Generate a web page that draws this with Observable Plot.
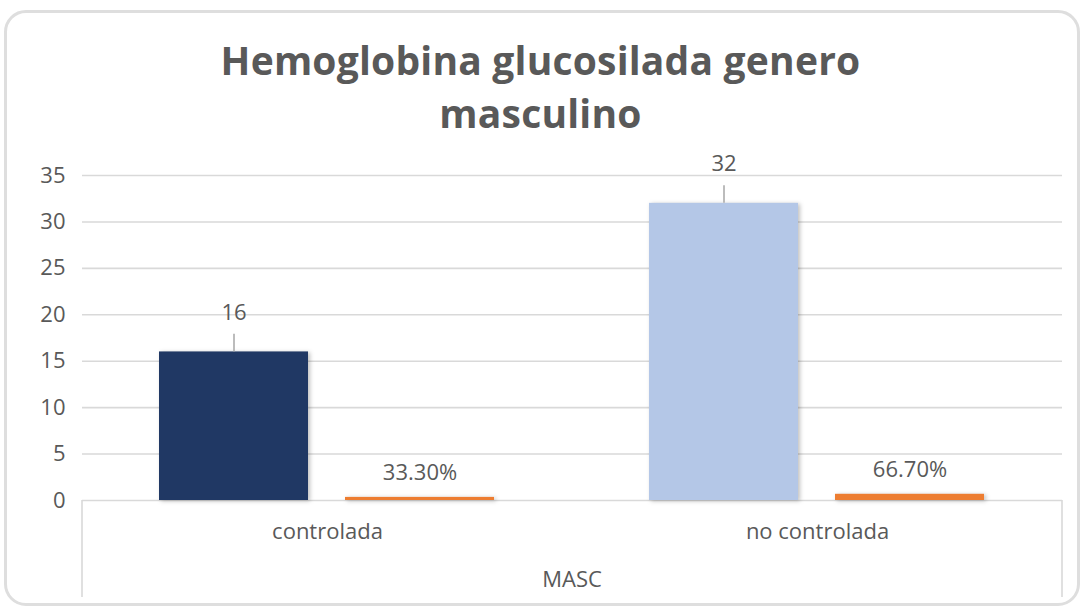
<!DOCTYPE html>
<html>
<head>
<meta charset="utf-8">
<script src="https://cdn.jsdelivr.net/npm/d3@7"></script>
<script src="https://cdn.jsdelivr.net/npm/@observablehq/plot@0.6"></script>
<style>
  html, body { margin: 0; padding: 0; background: #ffffff; }
  #wrap { position: relative; width: 1083px; height: 607px; overflow: hidden; font-family: "Open Sans", sans-serif; }
  #border { position: absolute; left: 4px; top: 10px; right: 3px; bottom: 1px; border: 3px solid #dedede; border-radius: 22px; box-sizing: border-box; }
  #title { position: absolute; left: 0; top: 33px; width: 1081px; text-align: center; font-size: 39px; font-weight: 700; color: #595959; line-height: 53px; letter-spacing: 0.2px; }
  #chart { position: absolute; left: 0; top: 140px; }
</style>
</head>
<body>
<div id="wrap">
  <div id="border"></div>
  <div id="title">Hemoglobina glucosilada genero<br>masculino</div>
  <div id="chart"></div>
</div>
<script>
// ---- data ----
const categories = ["controlada", "no controlada"];
const groupLabel = "MASC";
const counts = [16, 32];
const percents = [0.333, 0.667];
const yTicks = [0, 5, 10, 15, 20, 25, 30, 35];
const seriesNames = ["Cantidad", "Porcentaje"];

// ---- styles ----
const textColor = "#595959";
const gridColor = "#d9d9d9";
const countFill = ["#203864", "#b4c7e7"];
const pctFill = "#ed7d31";

const countRows = categories.map((c, i) => ({cat: c, series: seriesNames[0], value: counts[i], fill: countFill[i], label: String(counts[i])}));
const pctRows = categories.map((c, i) => ({cat: c, series: seriesNames[1], value: percents[i], fill: pctFill, label: (percents[i] * 100).toFixed(2) + "%"}));
const rows = countRows.concat(pctRows);

const plot = Plot.plot({
  width: 1083,
  height: 467,
  marginTop: 35,
  marginBottom: 107,
  marginLeft: 81,
  marginRight: 21,
  style: {fontFamily: "'Open Sans', sans-serif", color: textColor, background: "transparent"},
  fx: {domain: categories, padding: 0, label: null},
  x: {domain: seriesNames, paddingInner: 0.198, paddingOuter: 0.41, axis: null},
  y: {domain: [0, 35], axis: null},
  color: {type: "identity"},
  marks: [
    Plot.ruleY(yTicks.filter(t => t > 0), {stroke: gridColor, strokeWidth: 1.6}),
    Plot.ruleY([0], {stroke: gridColor, strokeWidth: 1.6}),
    Plot.axisY({ticks: yTicks, tickSize: 0, tickPadding: 17, fontSize: 22, label: null, anchor: "left"}),
    Plot.axisFx({anchor: "bottom", tickSize: 0, tickPadding: 23, fontSize: 22, label: null}),
    Plot.barY(rows, {fx: "cat", x: "series", y: "value", fill: "fill"}),
    Plot.ruleX(countRows, {fx: "cat", x: "series", y1: d => d.value, y2: d => d.value + 1.9, stroke: "#a6a6a6", strokeWidth: 1.5}),
    Plot.text(countRows, {fx: "cat", x: "series", y: "value", text: "label", dy: -39, fontSize: 22, fill: textColor}),
    Plot.text(pctRows, {fx: "cat", x: "series", y: "value", text: "label", dy: -24, fontSize: 22, fill: textColor})
  ]
});

document.getElementById("chart").appendChild(plot);

// bar shadow (Excel-like)
d3.select(plot).selectAll("g[aria-label='bar'] rect").style("filter", "drop-shadow(2px 1px 2px rgba(0,0,0,0.25))");

// multi-level category axis frame and group label, from the scales
const fx = plot.scale("fx");
const y = plot.scale("y");
const left = fx.apply(categories[0]);
const right = fx.apply(categories[categories.length - 1]) + fx.bandwidth;
const base = y.apply(0);
const svg = d3.select(plot);
const g = svg.append("g");
[left, right].forEach(xp => {
  g.append("line").attr("x1", xp).attr("x2", xp).attr("y1", base).attr("y2", base + 97)
    .attr("stroke", gridColor).attr("stroke-width", 1.6);
});
g.append("text").attr("x", (left + right) / 2).attr("y", base + 87)
  .attr("text-anchor", "middle").attr("font-size", 22).attr("fill", textColor)
  .attr("font-family", "'Open Sans', sans-serif").text(groupLabel);
</script>
</body>
</html>
